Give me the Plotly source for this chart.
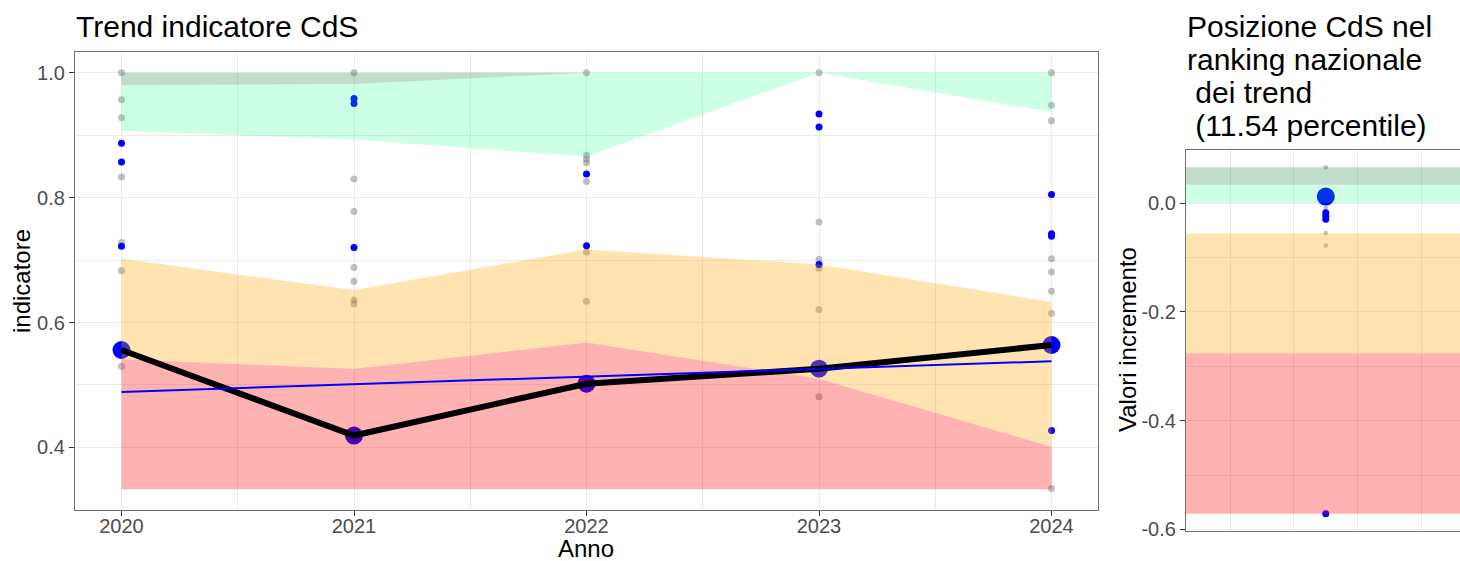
import numpy as np
import plotly.graph_objects as go

# ---------------- data: left panel ----------------
years = [2020, 2021, 2022, 2023, 2024]
cds_values = [0.556, 0.419, 0.502, 0.526, 0.564]

blue_years = [2020, 2020, 2020, 2021, 2021, 2021, 2022, 2022,
              2023, 2023, 2023, 2024, 2024, 2024, 2024]
blue_values = [0.887, 0.857, 0.722, 0.959, 0.951, 0.720, 0.838, 0.723,
               0.934, 0.913, 0.693, 0.805, 0.742, 0.738, 0.427]

gray_years = [2020, 2020, 2020, 2020, 2020, 2020, 2020,
              2021, 2021, 2021, 2021, 2021, 2021, 2021,
              2022, 2022, 2022, 2022, 2022, 2022, 2022,
              2023, 2023, 2023, 2023, 2023, 2023,
              2024, 2024, 2024, 2024, 2024, 2024, 2024, 2024]
gray_values = [1.0, 0.957, 0.928, 0.833, 0.728, 0.683, 0.530,
               1.0, 0.830, 0.778, 0.688, 0.666, 0.636, 0.630,
               1.0, 0.868, 0.862, 0.856, 0.826, 0.713, 0.634,
               1.0, 0.761, 0.701, 0.687, 0.621, 0.481,
               1.0, 0.948, 0.923, 0.702, 0.681, 0.650, 0.615, 0.334]

band_top = [1.0, 1.0, 1.0, 1.0, 1.0]
band_darkgreen_low = [0.980, 0.982, 1.0, 1.0, 1.0]
band_green_low = [0.907, 0.893, 0.866, 1.0, 0.937]
band_orange_high = [0.702, 0.652, 0.717, 0.693, 0.633]
band_orange_low = [0.541, 0.526, 0.568, 0.510, 0.401]
band_bottom = [0.333, 0.333, 0.333, 0.333, 0.333]

# ---------------- data: right panel ----------------
rank_big = [0.012]
rank_blue = [-0.018, -0.024, -0.030, -0.571]
rank_gray = [0.066, -0.009, -0.055, -0.078, -0.571]
rank_darkgreen = [0.0335, 0.066]
rank_green = [0.0, 0.0335]
rank_orange = [-0.276, -0.0555]
rank_red = [-0.571, -0.276]

left_y_ticks = [0.4, 0.6, 0.8, 1.0]
left_y_labels = ["0.4", "0.6", "0.8", "1.0"]
right_y_ticks = [0.0, -0.2, -0.4, -0.6]
right_y_labels = ["0.0", "-0.2", "-0.4", "-0.6"]

C_DARKGREEN = "rgba(46,139,87,0.3)"
C_GREEN = "rgba(0,255,127,0.2)"
C_ORANGE = "rgba(255,165,0,0.3)"
C_RED = "rgba(255,0,0,0.3)"
C_GRAY = "rgba(128,128,128,0.5)"
FONT = "Liberation Sans, Arial, sans-serif"

W, H = 1460, 561


def fx(px):
    return px / W


def fy(py):
    return 1 - py / H


fig = go.Figure()


def band_poly(x, lo, hi):
    return list(x) + list(x)[::-1], list(hi) + list(lo)[::-1]


# ---- left panel: points (under bands) ----
fig.add_trace(go.Scatter(x=gray_years, y=gray_values, mode="markers",
                         marker=dict(size=7, color=C_GRAY, line=dict(width=0)),
                         xaxis="x", yaxis="y", showlegend=False))
fig.add_trace(go.Scatter(x=blue_years, y=blue_values, mode="markers",
                         marker=dict(size=7, color="#0000FF", line=dict(width=0)),
                         xaxis="x", yaxis="y", showlegend=False))
fig.add_trace(go.Scatter(x=years, y=cds_values, mode="markers",
                         marker=dict(size=18, color="#0000FF", line=dict(width=0)),
                         xaxis="x", yaxis="y", showlegend=False))

# ---- left panel: bands ----
for lo, hi, col in [(band_darkgreen_low, band_top, C_DARKGREEN),
                    (band_green_low, band_darkgreen_low, C_GREEN),
                    (band_orange_low, band_orange_high, C_ORANGE),
                    (band_bottom, band_orange_low, C_RED)]:
    px, py = band_poly(years, lo, hi)
    fig.add_trace(go.Scatter(x=px, y=py, mode="none", fill="toself",
                             fillcolor=col, xaxis="x", yaxis="y",
                             showlegend=False, hoverinfo="skip"))

# ---- left panel: lines ----
fig.add_trace(go.Scatter(x=years, y=cds_values, mode="lines",
                         line=dict(color="black", width=6),
                         xaxis="x", yaxis="y", showlegend=False))
slope, intercept = np.polyfit(years, cds_values, 1)
fit = [slope * yr + intercept for yr in years]
fig.add_trace(go.Scatter(x=[years[0], years[-1]], y=[fit[0], fit[-1]], mode="lines",
                         line=dict(color="#0000FF", width=2),
                         xaxis="x", yaxis="y", showlegend=False))

# ---- right panel ----
rx_range = [-2.197, 2.11]
rank_x_gray = [0] * len(rank_gray)
rank_x_blue = [0] * len(rank_blue)
fig.add_trace(go.Scatter(x=rank_x_gray, y=rank_gray, mode="markers",
                         marker=dict(size=4.5, color=C_GRAY, line=dict(width=0)),
                         xaxis="x2", yaxis="y2", showlegend=False))
fig.add_trace(go.Scatter(x=rank_x_blue, y=rank_blue, mode="markers",
                         marker=dict(size=7, color="#0000FF", line=dict(width=0)),
                         xaxis="x2", yaxis="y2", showlegend=False))
fig.add_trace(go.Scatter(x=[0], y=rank_big, mode="markers",
                         marker=dict(size=18, color="#0000FF", line=dict(width=0)),
                         xaxis="x2", yaxis="y2", showlegend=False))
bx = [rx_range[0] - 1, rx_range[1] + 1]
for (lo, hi), col in [(rank_darkgreen, C_DARKGREEN), (rank_green, C_GREEN),
                      (rank_orange, C_ORANGE), (rank_red, C_RED)]:
    px, py = band_poly(bx, [lo, lo], [hi, hi])
    fig.add_trace(go.Scatter(x=px, y=py, mode="none", fill="toself",
                             fillcolor=col, xaxis="x2", yaxis="y2",
                             showlegend=False, hoverinfo="skip"))

GRID = "#EBEBEB"
LINE = "#707070"
TICKFONT = dict(family=FONT, size=20, color="#4D4D4D")

fig.update_layout(
    width=W, height=H,
    margin=dict(l=0, r=0, t=0, b=0),
    paper_bgcolor="white", plot_bgcolor="white",
    font=dict(family=FONT),
    xaxis=dict(domain=[fx(75), fx(1098)], range=[2019.8, 2024.2],
               tickvals=years, ticktext=[str(y) for y in years],
               tickfont=TICKFONT, ticks="outside", ticklen=5, tickcolor="#333333",
               ticklabelstandoff=-7,
               showgrid=True, gridcolor=GRID, gridwidth=1,
               minor=dict(tickvals=[2020.5, 2021.5, 2022.5, 2023.5], showgrid=True,
                          gridcolor=GRID, gridwidth=0.6, ticks=""),
               showline=True, linecolor=LINE, linewidth=1.3, mirror=True,
               zeroline=False, anchor="y", automargin=False),
    yaxis=dict(domain=[fy(510), fy(52)], range=[0.2997, 1.0333],
               tickvals=left_y_ticks, ticktext=left_y_labels,
               tickfont=TICKFONT, ticks="outside", ticklen=5, tickcolor="#333333",
               showgrid=True, gridcolor=GRID, gridwidth=1,
               minor=dict(tickvals=[0.3, 0.5, 0.7, 0.9], showgrid=True,
                          gridcolor=GRID, gridwidth=0.6, ticks=""),
               showline=True, linecolor=LINE, linewidth=1.3, mirror=True,
               zeroline=False, anchor="x", automargin=False),
    xaxis2=dict(domain=[fx(1186), 1.0], range=rx_range,
                tickvals=[-1.5, -0.5, 0.5, 1.5], showticklabels=False, ticks="",
                showgrid=True, gridcolor=GRID, gridwidth=1,
                showline=True, linecolor=LINE, linewidth=1.3, mirror=True,
                zeroline=False, anchor="y2", automargin=False),
    yaxis2=dict(domain=[fy(531), fy(150)], range=[-0.6028, 0.0975],
                tickvals=right_y_ticks, ticktext=right_y_labels,
                tickfont=TICKFONT, ticks="outside", ticklen=5, tickcolor="#333333",
                showgrid=True, gridcolor=GRID, gridwidth=1,
                minor=dict(tickvals=[0.1, -0.1, -0.3, -0.5], showgrid=True,
                           gridcolor=GRID, gridwidth=0.6, ticks=""),
                showline=True, linecolor=LINE, linewidth=1.3, mirror=False,
                zeroline=False, anchor="x2", automargin=False),
)

TITLE_FONT = dict(family=FONT, size=30, color="black")
AX_FONT = dict(family=FONT, size=24, color="black")
ann = []
ann.append(dict(text="Trend indicatore CdS", x=fx(74), y=fy(27),
                xanchor="left", yanchor="middle", font=TITLE_FONT))
right_title = ["Posizione CdS nel", "ranking nazionale",
               "\u00a0dei trend", "\u00a0(11.54 percentile)"]
for i, line in enumerate(right_title):
    ann.append(dict(text=line, x=fx(1185), y=fy(27 + 32.7 * i),
                    xanchor="left", yanchor="middle", font=TITLE_FONT))
ann.append(dict(text="Anno", x=fx(586), y=fy(548), xanchor="center",
                yanchor="middle", font=AX_FONT))
ann.append(dict(text="indicatore", x=fx(21), y=fy(281), xanchor="center",
                yanchor="middle", textangle=-90, font=AX_FONT))
ann.append(dict(text="Valori incremento", x=fx(1127), y=fy(340),
                xanchor="center", yanchor="middle", textangle=-90, font=AX_FONT))
for a in ann:
    a.update(xref="paper", yref="paper", showarrow=False)
fig.update_layout(annotations=ann)

# remove the default 8px page margin so the figure sits at the window origin
fig.write_html("out.html",
               config={"displayModeBar": False},
               post_script="document.body.style.margin='0';"
                           "document.body.style.overflow='hidden';")
